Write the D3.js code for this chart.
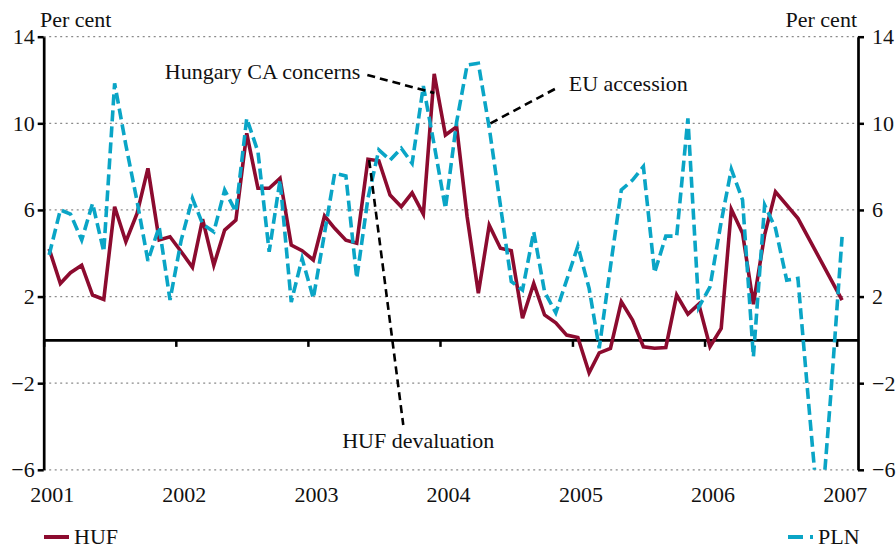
<!DOCTYPE html>
<meta charset="utf-8">
<style>
  body { margin: 0; background: #fff; }
  text { font-family: "Liberation Serif", "DejaVu Serif", serif; fill: #111; }
</style>
<body>
<script src="https://d3js.org/d3.v7.min.js"></script>
<script>
// monthly observations, Jan 2001 .. Jan 2007
var months = d3.timeMonth.range(new Date(2001, 0, 1), new Date(2007, 1, 1));

var huf = [4.2, 2.6, 3.1, 3.45, 2.07, 1.87, 6.15, 4.53, 5.84, 7.92, 4.61, 4.76,
           4.07, 3.35, 5.57, 3.45, 5.07, 5.53, 9.54, 7.0, 7.0, 7.46, 4.38, 4.12,
           3.69, 5.72, 5.15, 4.6, 4.46, 8.34, 8.27, 6.69, 6.15, 6.79, 5.81, 12.28,
           9.46, 9.84, 5.69, 2.15, 5.3, 4.23, 4.12, 1.0, 2.61, 1.15, 0.79, 0.22,
           0.11, -1.52, -0.6, -0.39, 1.76, 0.91, -0.32, -0.39, -0.35, 2.07, 1.19, 1.65,
           -0.32, 0.53, 6.03, 4.92, 1.65, 4.85, 6.84, null, 5.61, null, null, null,
           1.84];

var pln = [3.92, 6.0, 5.81, 4.61, 6.3, 4.07, 11.85, 9.0, 6.4, 3.65, 5.22, 1.84,
           4.61, 6.54, 5.35, 4.99, 6.92, 5.92, 10.23, 8.69, 4.07, 7.38, 1.75, 3.76,
           1.92, 4.92, 7.69, 7.57, 2.84, 6.54, 8.77, 8.3, 8.85, 8.15, 11.72, 9.0,
           6.07, 10.07, 12.69, 12.77, 9.8, 6.2, 2.7, 2.3, 4.99, 2.22, 1.25, 2.76,
           4.33, 2.38, -0.39, 3.38, 6.92, 7.38, 8.0, 3.1, 4.79, 4.79, 10.23, 1.5,
           2.45, 5.45, 7.88, 6.46, -0.78, 6.23, 5.15, 2.76, 2.84, -3.0, -8.9, -2.5,
           4.76];

var years = [2001, 2002, 2003, 2004, 2005, 2006, 2007];
var yTicks = [-6, -2, 2, 6, 10, 14];

// annotations: dashed pointer from [year, value] to [year, value]
var notes = [
  {label: "Hungary CA concerns", from: [2003.45, 12.23], to: [2003.957, 11.4], at: "from", dx: -7, dy: 4, anchor: "end"},
  {label: "EU accession", from: [2004.381, 10.0], to: [2004.881, 11.63], at: "to", dx: 12, dy: 3, anchor: "start"},
  {label: "HUF devaluation", from: [2003.464, 8.3], to: [2003.722, -3.93], at: "to", dx: 15, dy: 23, anchor: "middle"}
];

var hufColor = "#8c0b2f", plnColor = "#0aa5c6";

var W = 896, H = 545,
    pLeft = 43.7, pRight = 858, pTop = 36.7, pBottom = 469.8;

var svg = d3.select("body").append("svg")
    .attr("width", W)
    .attr("height", H);

var x = d3.scaleTime()
    .domain([new Date(2001, 0, 1), new Date(2007, 2, 1)])
    .range([pLeft, pRight]);
var y = d3.scaleLinear().domain([-6, 14]).range([pBottom, pTop]);

function yearDate(v) {
  var yr = Math.floor(v), f = v - yr;
  var a = new Date(yr, 0, 1), b = new Date(yr + 1, 0, 1);
  return new Date(+a + f * (b - a));
}
function mid(d) { return new Date(d.getFullYear(), d.getMonth(), 16); }

svg.append("defs").append("clipPath")
    .attr("id", "clip")
  .append("rect")
    .attr("x", pLeft)
    .attr("y", pTop)
    .attr("width", pRight - pLeft)
    .attr("height", pBottom - pTop);

// dotted grid
svg.append("g").selectAll("line")
    .data(yTicks)
  .enter().append("line")
    .attr("x1", pLeft).attr("x2", pRight)
    .attr("y1", function(d) { return y(d); })
    .attr("y2", function(d) { return y(d); })
    .attr("stroke", "#8a8a8a")
    .attr("stroke-width", 1.3)
    .attr("stroke-dasharray", "2,3.5");

// left / right axes
var yAxisL = d3.axisLeft(y).tickValues(yTicks).tickSize(6).tickSizeOuter(0).tickPadding(3);
var yAxisR = d3.axisRight(y).tickValues(yTicks).tickSize(6).tickSizeOuter(0).tickPadding(8);

var gl = svg.append("g").attr("transform", "translate(" + pLeft + ",0)").call(yAxisL);
var gr = svg.append("g").attr("transform", "translate(" + pRight + ",0)").call(yAxisR);
[gl, gr].forEach(function(g) {
  g.select(".domain").attr("stroke", "#000").attr("stroke-width", 2.7);
  g.selectAll(".tick line").attr("stroke", "#000").attr("stroke-width", 2.5);
  g.selectAll(".tick text").style("font-size", "22px").attr("fill", "#111");
});

// zero line with year ticks
var zeroAxis = d3.axisBottom(x)
    .tickValues(years.map(function(d) { return new Date(d, 0, 1); }))
    .tickSize(7).tickSizeOuter(0).tickFormat("");
var gz = svg.append("g").attr("transform", "translate(0," + y(0) + ")").call(zeroAxis);
gz.select(".domain").attr("stroke", "#000").attr("stroke-width", 2.7);
gz.selectAll(".tick line").attr("stroke", "#000").attr("stroke-width", 2.5);

// year labels below the plot
var xAxis = d3.axisBottom(x)
    .tickValues(years.map(function(d) { return new Date(d, 0, 1); }))
    .tickSize(0).tickPadding(17)
    .tickFormat(d3.timeFormat("%Y"));
var gx = svg.append("g").attr("transform", "translate(0," + pBottom + ")").call(xAxis);
gx.select(".domain").remove();
gx.selectAll(".tick text").attr("x", 8).style("font-size", "22px").attr("fill", "#111");

// unit labels
svg.append("text").attr("x", 40).attr("y", 27).style("font-size", "22px").text("Per cent");
svg.append("text").attr("x", 857).attr("y", 27).attr("text-anchor", "end").style("font-size", "22px").text("Per cent");

// series
function series(vals) {
  return months.map(function(m, i) { return {date: mid(m), value: vals[i]}; })
    .filter(function(d) { return d.value != null; });
}
var line = d3.line()
    .x(function(d) { return x(d.date); })
    .y(function(d) { return y(d.value); });

var plot = svg.append("g").attr("clip-path", "url(#clip)");

plot.append("path")
    .datum(series(huf))
    .attr("fill", "none")
    .attr("stroke", hufColor)
    .attr("stroke-width", 3.6)
    .attr("stroke-linejoin", "miter")
    .attr("d", line);

plot.append("path")
    .datum(series(pln))
    .attr("fill", "none")
    .attr("stroke", plnColor)
    .attr("stroke-width", 3.6)
    .attr("stroke-dasharray", "11,5")
    .attr("d", line);

// annotations
notes.forEach(function(n) {
  var x1 = x(yearDate(n.from[0])), y1 = y(n.from[1]),
      x2 = x(yearDate(n.to[0])), y2 = y(n.to[1]);
  svg.append("line")
      .attr("x1", x1).attr("y1", y1)
      .attr("x2", x2).attr("y2", y2)
      .attr("stroke", "#000")
      .attr("stroke-width", 2.6)
      .attr("stroke-dasharray", "8,5");
  var px = n.at == "from" ? x1 : x2, py = n.at == "from" ? y1 : y2;
  svg.append("text")
      .attr("x", px + n.dx)
      .attr("y", py + n.dy)
      .attr("text-anchor", n.anchor)
      .style("font-size", "22px")
      .text(n.label);
});

// legend
var legend = [
  {name: "HUF", color: hufColor, dash: null, x: 44},
  {name: "PLN", color: plnColor, dash: "15,7,3,7", x: 788}
];
var lg = svg.append("g").selectAll("g")
    .data(legend)
  .enter().append("g")
    .attr("transform", function(d) { return "translate(" + d.x + ",537)"; });
lg.append("line")
    .attr("x1", 0).attr("x2", 25)
    .attr("stroke", function(d) { return d.color; })
    .attr("stroke-width", 4)
    .attr("stroke-dasharray", function(d) { return d.dash; });
lg.append("text")
    .attr("x", 30)
    .attr("y", 7)
    .style("font-size", "22px")
    .text(function(d) { return d.name; });
</script>
</body>
